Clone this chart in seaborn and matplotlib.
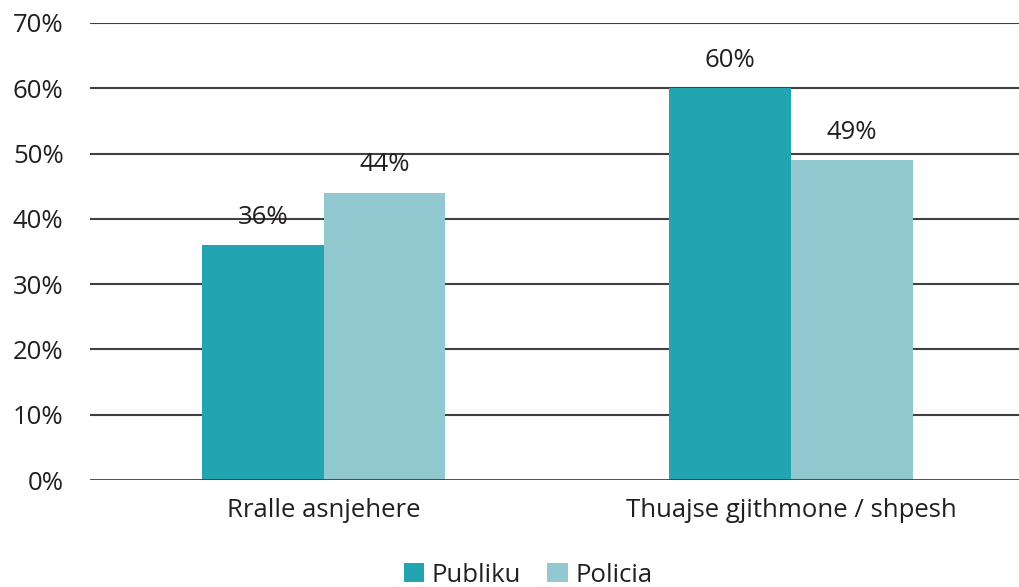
import matplotlib
matplotlib.use("Agg")
import matplotlib.pyplot as plt
import seaborn as sns
import pandas as pd
from matplotlib.patches import Patch

categories = ["Rralle asnjehere", "Thuajse gjithmone / shpesh"]
series = ["Publiku", "Policia"]
publiku = [36, 60]
policia = [44, 49]
yticks = [0, 10, 20, 30, 40, 50, 60, 70]
colors = ["#22A4B1", "#92C9D1"]

df = pd.DataFrame({
    "cat": categories * 2,
    "series": [series[0]] * 2 + [series[1]] * 2,
    "val": publiku + policia,
})

sns.set_theme(style="white")
plt.rcParams["font.family"] = ["Open Sans", "DejaVu Sans"]

fig = plt.figure(figsize=(10.2, 5.87), dpi=100)
ax = fig.add_axes([90 / 1020, 1 - 480 / 587, 1 - 90 / 1020, (480 - 23) / 587])

sns.barplot(data=df, x="cat", y="val", hue="series", palette=colors,
            width=0.52, saturation=1, ax=ax, legend=False, zorder=3,
            linewidth=0, edgecolor="none")

ax.set_ylim(0, 70)
ax.set_xlim(-0.5, 1.49)
ax.set_yticks(yticks)
ax.set_yticklabels([f"{t}%" for t in yticks], fontsize=18.5, color="#231F20")
ax.tick_params(axis="y", length=0, pad=19)
ax.tick_params(axis="x", length=0, pad=13, labelsize=18.5, labelcolor="#231F20")
ax.set_xlabel("")
ax.set_ylabel("")
for t in yticks:
    ax.axhline(t, color="#404040", lw=1.5 if t else 2, zorder=1 if t else 4)
for s in ax.spines.values():
    s.set_visible(False)

for cont in ax.containers:
    for bar in cont:
        h = bar.get_height()
        ax.annotate(f"{h:.0f}%", (bar.get_x() + bar.get_width() / 2, h),
                    xytext=(0, 11), textcoords="offset points",
                    ha="center", va="bottom", fontsize=18.5, color="#231F20", zorder=5)

handles = [Patch(facecolor=c, edgecolor="none") for c in colors]
fig.legend(handles, series, loc="center", bbox_to_anchor=(528 / 1020, 1 - 575 / 587),
           ncol=2, frameon=False, fontsize=18.5, handlelength=0.8, handleheight=0.8,
           handletextpad=0.3, columnspacing=1.0, labelcolor="#231F20")

fig.savefig("out.png", dpi=100)
